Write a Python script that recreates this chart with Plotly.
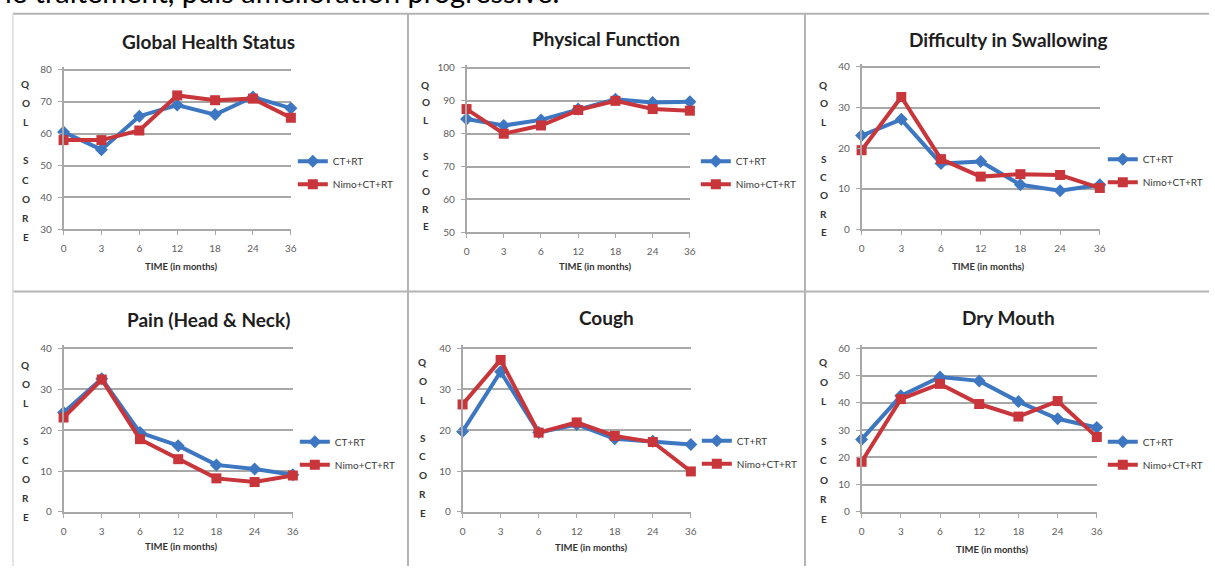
import plotly.graph_objects as go

W, H = 1215, 572

# ---- data -------------------------------------------------------------
months = ["0", "3", "6", "12", "18", "24", "36"]
series_names = ["CT+RT", "Nimo+CT+RT"]

titles = ["Global Health Status", "Physical Function", "Difficulty in Swallowing",
          "Pain (Head & Neck)", "Cough", "Dry Mouth"]

global_ct = [60.5, 55, 65.5, 69, 66, 71.5, 68]
global_nimo = [58, 58, 61, 72, 70.5, 71, 65]
physical_ct = [84.5, 82.5, 84.2, 87.5, 90.5, 89.5, 89.7]
physical_nimo = [87.5, 80, 82.5, 87.2, 90, 87.5, 87]
swallow_ct = [23.1, 27.1, 16.2, 16.7, 11, 9.5, 11]
swallow_nimo = [19.5, 32.6, 17.3, 13, 13.6, 13.4, 10.2]
pain_ct = [24.3, 32.6, 19.4, 16.2, 11.5, 10.5, 9.1]
pain_nimo = [23.1, 32.4, 17.8, 12.9, 8.2, 7.3, 8.9]
cough_ct = [19.7, 34.3, 19.4, 21.4, 17.9, 17.3, 16.5]
cough_nimo = [26.3, 37.2, 19.4, 21.9, 18.6, 17.1, 9.9]
dry_ct = [26.6, 42.6, 49.5, 48.1, 40.5, 34.2, 31]
dry_nimo = [18.4, 41.4, 47, 39.6, 35, 40.7, 27.5]

y_ranges = [(30, 80), (50, 100), (0, 40), (0, 40), (0, 40), (0, 60)]

panel_series = [
    (global_ct, global_nimo),
    (physical_ct, physical_nimo),
    (swallow_ct, swallow_nimo),
    (pain_ct, pain_nimo),
    (cough_ct, cough_nimo),
    (dry_ct, dry_nimo),
]

axis_letters = ["Q", "O", "L", "", "S", "C", "O", "R", "E"]
x_title = "TIME (in months)"
caption = "le traitement, puis amélioration progressive."

# ---- layout helpers (pixel geometry of each panel) ---------------------
# plot area: left, right, top (value = max), bottom (value = min)
plot_box = [
    (61, 290, 68, 230), (467, 692, 66, 233), (865, 1105, 65, 230),
    (61, 292, 351, 517), (463, 693, 351, 517), (865, 1102, 351, 517),
]
title_pos = [(207, 39), (608, 36), (1013, 37), (207, 322), (608, 320), (1013, 320)]
letters_pos = [(23, 82, 238), (426, 83, 227), (827, 83, 233),
               (23, 368, 522), (423, 365, 518), (827, 365, 524)]
xtitle_pos = [(180, 268), (597, 268), (993, 268), (180, 552), (593, 553), (997, 555)]
legend_pos = [(334, 162), (740, 162), (1150, 160), (336, 447), (741, 446), (1150, 447)]

BLUE = "#3d77c2"
RED = "#c8353a"
GRID = "#a8a8a8"
FONT = "Lato"
HEADROOM = 0.02  # extra room above the top tick so its gridline is drawn


def px(x):
    return x / W


def py(y):
    return 1 - y / H


fig = go.Figure()
annotations = []
layout = {}

for i in range(6):
    n = "" if i == 0 else str(i + 1)
    xa, ya = "x" + n, "y" + n
    leg = "legend" + n
    left, right, top, bottom = plot_box[i]
    ct, nimo = panel_series[i]

    fig.add_trace(go.Scatter(
        x=months, y=ct, name=series_names[0], mode="lines+markers",
        line=dict(color=BLUE, width=4),
        marker=dict(symbol="diamond", size=10, color=BLUE),
        xaxis=xa, yaxis=ya, legend=leg, legendgroup="ct", cliponaxis=False,
    ))
    fig.add_trace(go.Scatter(
        x=months, y=nimo, name=series_names[1], mode="lines+markers",
        line=dict(color=RED, width=4),
        marker=dict(symbol="square", size=10, color=RED),
        xaxis=xa, yaxis=ya, legend=leg, legendgroup="nimo", cliponaxis=False,
    ))

    lo, hi = y_ranges[i]
    top_ext = top - HEADROOM * (bottom - top)
    layout["xaxis" + n] = dict(
        type="category", categoryorder="array", categoryarray=months,
        range=[0, 6], domain=[px(left), px(right)], anchor=ya,
        showline=True, linecolor=GRID, linewidth=1.5, showgrid=False,
        ticks="outside", ticklen=4, tickcolor=GRID, ticklabelstandoff=5,
        tickfont=dict(family=FONT, size=10, color="#5e5e5e"),
        zeroline=False, fixedrange=True,
    )
    layout["yaxis" + n] = dict(
        range=[lo, hi + HEADROOM * (hi - lo)], tickvals=list(range(lo, hi + 1, 10)),
        domain=[py(bottom), py(top_ext)],
        anchor=xa, showline=True, linecolor=GRID, linewidth=1.5,
        showgrid=True, gridcolor=GRID, gridwidth=1.5,
        ticks="outside", ticklen=4, tickcolor=GRID, ticklabelstandoff=4,
        tickfont=dict(family=FONT, size=10, color="#5e5e5e"),
        zeroline=False, fixedrange=True,
    )
    lx, ly = legend_pos[i]
    layout[leg] = dict(
        x=px(lx - 42), y=py(ly - 16), xanchor="left", yanchor="top",
        bgcolor="rgba(0,0,0,0)", font=dict(family=FONT, size=10, color="#3a3a3a"),
        itemwidth=30, tracegroupgap=4, traceorder="grouped",
    )

    tx, ty = title_pos[i]
    annotations.append(dict(
        text="<b>" + titles[i] + "</b>", x=px(tx), y=py(ty), xref="paper", yref="paper",
        xanchor="center", yanchor="middle", showarrow=False,
        font=dict(family=FONT, size=19, color="#1e1e1e"),
    ))

    cx, q_y, e_y = letters_pos[i]
    step = (e_y - q_y) / (len(axis_letters) - 1)
    for k, ch in enumerate(axis_letters):
        if not ch:
            continue
        annotations.append(dict(
            text="<b>" + ch + "</b>", x=px(cx), y=py(q_y + k * step),
            xref="paper", yref="paper", xanchor="center", yanchor="middle",
            showarrow=False, font=dict(family=FONT, size=10, color="#333333"),
        ))

    bx, by = xtitle_pos[i]
    annotations.append(dict(
        text="<b>" + x_title + "</b>", x=px(bx), y=py(by), xref="paper", yref="paper",
        xanchor="center", yanchor="middle", showarrow=False,
        font=dict(family=FONT, size=9.5, color="#333333"),
    ))

annotations.append(dict(
    text=caption, x=0, y=py(8), xref="paper", yref="paper",
    xanchor="left", yanchor="bottom", showarrow=False,
    font=dict(family=FONT, size=29, color="#000000"),
))

# panel frames
frame = dict(type="line", xref="paper", yref="paper", line=dict(color="#b4b4b4", width=2))
shapes = [
    dict(frame, x0=px(10), x1=1, y0=py(11), y1=py(11)),
    dict(frame, x0=px(10), x1=1, y0=py(293), y1=py(293)),
    dict(frame, x0=px(408), x1=px(408), y0=py(11), y1=0),
    dict(frame, x0=px(808), x1=px(808), y0=py(11), y1=0),
    dict(frame, x0=px(10), x1=px(10), y0=py(11), y1=0, line=dict(color="#dcdcdc", width=1.5)),
]

fig.update_layout(
    width=W, height=H, margin=dict(l=0, r=0, t=0, b=0),
    paper_bgcolor="white", plot_bgcolor="white",
    annotations=annotations, shapes=shapes, **layout,
)

fig.write_html("out.html")
